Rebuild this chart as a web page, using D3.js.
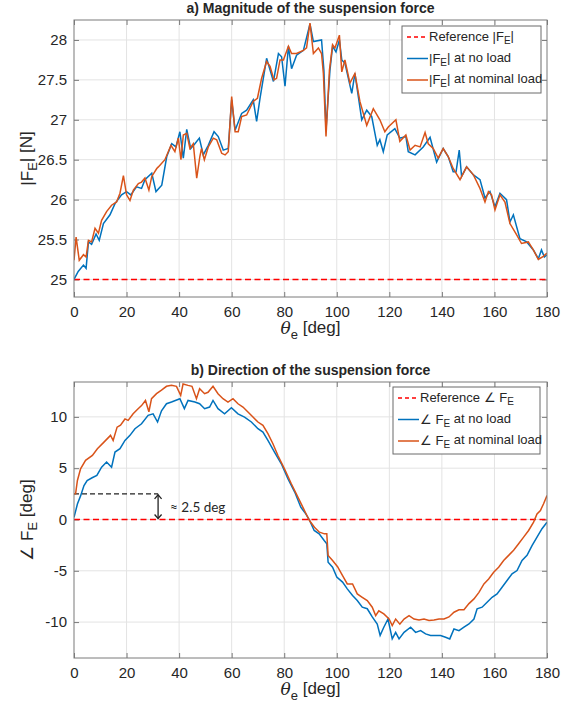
<!DOCTYPE html>
<meta charset="utf-8">

<!-- Load d3.js -->
<script src="https://d3js.org/d3.v7.min.js"></script>

<style>
  body { margin: 0; background: #fff; }
  text { font-family: "Liberation Sans", Arial, sans-serif; fill: #262626; }
</style>

<div id="my_dataviz"></div>
<script>

// ---- data ----
// a) magnitude of the suspension force [N]
var thetaMagNoLoad = [0,1.6,3.6,4.6,5.5,6.7,8.4,9.6,11.2,13.7,15.6,18.1,20,21.6,23.8,25.7,27,29.6,31.2,33.4,35.3,37.2,38.8,40.3,41.6,42.9,44.4,46,47.7,49.2,51.1,53.3,54.9,56.8,58.7,60,61.3,63.8,65.7,68.2,69.5,70.8,73.3,75.9,77.8,79,80.3,81.6,82.8,84.7,87.3,89.8,91.1,94.2,95.1,95.9,97.4,98.4,99.7,101,101.9,103.1,105.7,106.9,109.5,111.4,113.3,115.4,116.4,117.7,119.2,122.1,124,126.3,127.2,129.8,132.9,135.5,138,140.5,142.4,144.3,145.4,146.6,147.5,149.4,152,154.5,156.4,158.3,160.2,162.1,164.6,165.9,167.2,169.7,172.3,174.8,176.7,177.9,179,180]
var magNoLoad = [25.0,25.1,25.18,25.14,25.47,25.44,25.57,25.49,25.7,25.81,25.95,26.06,26.1,26.06,26.16,26.14,26.25,26.33,26.1,26.18,26.54,26.7,26.66,26.85,26.52,26.88,26.64,26.7,26.77,26.56,26.68,26.85,26.79,26.62,26.64,27.25,26.87,27.08,27.12,27.25,26.98,27.27,27.77,27.48,27.83,27.79,27.42,27.92,27.64,27.81,27.87,28.2,27.98,28.0,27.62,26.87,27.62,27.92,27.85,28.0,27.75,27.71,27.33,27.58,27.0,27.12,27.04,26.68,26.75,26.6,26.81,26.89,26.77,26.79,26.6,26.56,26.66,26.78,26.47,26.64,26.54,26.35,26.35,26.62,26.29,26.41,26.31,26.25,26.02,26.1,25.91,26.08,26.0,25.72,25.81,25.51,25.47,25.37,25.26,25.37,25.28,25.31]

var thetaMagNominal = [0,0.8,2,3.6,4.6,5.5,6.7,8,9.3,10.5,12.4,14.3,16.2,17.5,18.8,20,21.3,22.6,24.5,25.7,27,28.5,29.6,31.5,32.1,34.6,36.9,38.4,39.7,40.7,41.6,42.9,44.1,45.4,46.7,47.9,48.5,49.6,51.1,53,54.3,56.2,57.5,58.7,60,61.3,62.5,63.8,65.7,68.2,69.8,71.4,73.3,74.6,76.1,77.1,78.4,79.7,81.6,82.8,84.7,87.3,88.5,89.8,91.1,93,94.2,94.9,95.9,97.2,98.4,99.3,101,101.9,103.1,105,106.9,108.8,111.4,113.9,116.4,118.3,119.6,122.5,124,126.3,127.9,129.8,131.7,133.6,134.8,136.7,138.6,140.5,142.4,144.3,146.9,149.4,152,154.5,156.4,157.7,158.9,160.2,162.1,164,165.9,168.4,170.3,172.9,174.8,176.7,178.6,180]
var magNominal = [25.24,25.53,25.24,25.31,25.28,25.49,25.47,25.64,25.58,25.74,25.85,25.93,25.97,26.08,26.3,26.06,25.99,26.12,26.2,26.22,26.27,26.12,26.29,26.39,26.41,26.5,26.68,26.6,26.77,26.5,26.81,26.83,26.64,26.7,26.27,26.54,26.64,26.5,26.66,26.77,26.75,26.58,26.56,26.6,27.29,26.85,26.85,27.04,27.06,27.23,27.27,27.52,27.73,27.67,27.5,27.52,27.75,27.75,27.92,27.83,27.83,27.87,27.9,28.21,27.83,27.9,27.83,27.58,26.79,27.62,27.94,27.9,28.06,27.6,27.75,27.46,27.58,27.23,26.93,27.14,27.0,26.85,26.91,27.0,26.73,26.81,26.62,26.68,26.66,26.84,26.7,26.64,26.52,26.64,26.54,26.39,26.25,26.41,26.31,26.14,25.97,26.1,26.06,25.87,26.06,25.97,25.7,25.56,25.45,25.47,25.37,25.25,25.29,25.33]

var magReference = 25

// b) direction of the suspension force [deg]
var thetaDirNoLoad = [0,1.3,2.5,3.8,5,6.9,8.7,10.5,12.4,14.3,15.6,17.5,19.4,21.3,23.2,25.7,28.2,30.1,31.8,33.3,35.2,37.1,40.3,42,43.4,46,47.8,49.7,51.6,52.9,54.8,57.3,59.9,62.4,64.9,67.5,70,71.9,73.8,76.3,78.9,81.4,84,86.3,88.2,89.5,91.4,93.3,95.2,96.2,96.7,98.4,100,102.2,104,106,107.8,109.7,111.6,113.5,115.4,116.5,117.9,119.5,121.1,122.4,123.7,125.6,128.1,130,131.9,133.8,135.7,137.6,139.5,141.4,143,144.6,146.5,148.4,150.3,152.2,153.4,155.3,157.2,159.1,161,162.9,164.8,166.7,168.6,170.5,172.4,174.3,176.2,178.1,180]
var dirNoLoad = [0.2,1.5,2.3,3.3,3.8,4.07,4.3,5.1,5.6,5.1,6.57,6.9,7.7,8.2,8.85,9.33,10.15,10.3,9.5,10.6,11.28,11.45,11.77,10.8,11.6,11.45,11.28,10.8,10.96,11.6,10.8,10.3,10.9,10.3,9.98,9.5,8.85,8.52,7.7,6.57,5.43,3.97,2.67,1.2,0.55,0.0,-1.07,-1.4,-2.05,-2.37,-4.16,-4.65,-5.6,-6.1,-6.76,-7.4,-7.9,-8.55,-8.7,-9.5,-10.2,-11.3,-10.5,-9.7,-11.64,-11.0,-11.64,-11.0,-10.5,-11.0,-10.83,-11.15,-11.3,-11.3,-11.3,-11.48,-11.64,-10.67,-10.83,-10.5,-10.18,-9.7,-8.7,-8.55,-8.07,-7.58,-7.25,-6.6,-5.95,-5.3,-4.98,-4.0,-3.5,-2.54,-1.72,-0.9,-0.26]

var thetaDirNominal = [0,0.6,1.3,2.5,4.4,7,8.9,11.4,13.9,14.9,16.4,17.7,19.4,20.6,22.5,24.4,25.7,27.2,28.5,29.5,31.4,33.3,35.2,37.1,39,40.6,41.5,43.4,44.9,46.6,47.8,49.7,51,52.9,54.8,56.7,58.6,60.5,62.4,64.3,66.2,68.1,70,71.9,73.8,75.7,77.6,80.1,82.7,85.2,87.7,89.6,91.5,93.4,95.3,96.2,96.7,98.4,100.3,102.2,104,106,107.8,109.7,111.6,113.5,114.8,116,117.9,119.9,121.1,122.4,124,125.6,127.5,129.4,131.3,133.2,135.1,137,138.9,140.8,142.7,144.6,146.5,148.4,150.3,152.2,154.1,156,157.8,159.7,161.6,163.5,165.4,167.3,169.2,171.1,173,174.9,176.2,177.5,178.7,180]
var dirNominal = [2.5,2.5,3.8,4.94,5.76,6.24,6.9,7.54,8.2,7.7,9.0,9.2,9.8,9.66,10.3,10.8,11.1,11.6,10.5,11.77,12.26,12.6,12.98,13.07,12.98,12.1,13.2,13.07,12.98,11.77,12.75,12.26,12.4,12.98,12.26,11.77,11.45,11.77,11.28,10.96,10.47,9.98,9.5,9.17,8.36,7.38,6.24,4.94,3.48,2.18,0.88,-0.1,-0.75,-1.24,-1.4,-1.4,-3.5,-4.0,-4.6,-5.46,-6.28,-6.28,-7.25,-7.58,-7.9,-8.55,-9.37,-8.9,-9.2,-9.7,-10.34,-9.7,-10.2,-9.7,-9.37,-9.7,-9.8,-9.7,-9.85,-9.8,-9.7,-9.7,-9.5,-9.04,-8.8,-8.8,-8.2,-7.74,-7.1,-6.28,-5.8,-5.14,-4.65,-4.0,-3.5,-3.0,-2.37,-1.72,-1.07,-0.26,0.55,0.88,1.53,2.34]

var dirReference = 0

// offset annotation: dashed guide from 0 to 32 deg at 2.5 deg
var offsetGuide = [0, 32]
var offsetValue = 2.5

// ticks
var xTicks = [0, 20, 40, 60, 80, 100, 120, 140, 160, 180]
var magTicks = [25, 25.5, 26, 26.5, 27, 27.5, 28]
var dirTicks = [-10, -5, 0, 5, 10]

// colours (MATLAB defaults)
var colNoLoad = "#0072BD"
var colNominal = "#D95319"
var colRef = "#ff0000"

// set the dimensions of the figure
var width = 577
    height = 703

var svg = d3.select("#my_dataviz")
  .append("svg")
    .attr("width", width)
    .attr("height", height)

var defs = svg.append("defs")

// plain tick labels like MATLAB: 25, 25.5, -10
var tickFmt = function(d) { return String(d) }

// write text made of [string, isSubscript] pieces
function richText(sel, parts, subSize) {
  parts.forEach(function(p) {
    var t = sel.append("tspan").text(p[0])
    if (p[1]) t.attr("dy", "0.3em").style("font-size", subSize + "px")
    else if (sel.selectAll("tspan").size() > 1) t.attr("dy", "-0.3em")
  })
  return sel
}

function drawPanel(p) {

  var x = d3.scaleLinear().domain([0, 180]).range([74, 547])
  var y = d3.scaleLinear().domain(p.yDomain).range([p.bottom, p.top])

  var g = svg.append("g")

  // grid
  g.selectAll(".vgrid").data(xTicks.slice(1, -1)).enter().append("line")
    .attr("x1", d => x(d)).attr("x2", d => x(d))
    .attr("y1", p.top).attr("y2", p.bottom)
    .attr("stroke", "#e3e3e3")
  g.selectAll(".hgrid").data(p.yTicks).enter().append("line")
    .attr("x1", 74).attr("x2", 547)
    .attr("y1", d => y(d)).attr("y2", d => y(d))
    .attr("stroke", "#e3e3e3")

  // axes (ticks point inwards, box on)
  var axB = g.append("g").attr("transform", "translate(0," + p.bottom + ")")
    .call(d3.axisBottom(x).tickValues(xTicks).tickFormat(tickFmt).tickSizeInner(-5).tickSizeOuter(0).tickPadding(9))
  var axT = g.append("g").attr("transform", "translate(0," + p.top + ")")
    .call(d3.axisTop(x).tickValues(xTicks).tickSizeInner(-5).tickSizeOuter(0).tickFormat(""))
  var axL = g.append("g").attr("transform", "translate(74,0)")
    .call(d3.axisLeft(y).tickValues(p.yTicks).tickFormat(tickFmt).tickSizeInner(-5).tickSizeOuter(0).tickPadding(7))
  var axR = g.append("g").attr("transform", "translate(547,0)")
    .call(d3.axisRight(y).tickValues(p.yTicks).tickSizeInner(-5).tickSizeOuter(0).tickFormat(""))
  ;[axB, axT, axL, axR].forEach(function(a) {
    a.select(".domain").remove()
    a.selectAll(".tick line").attr("stroke", "#7a7a7a")
    a.selectAll("text").style("font-size", "15px").attr("fill", "#262626")
  })

  // clip to the plot area
  defs.append("clipPath").attr("id", p.id)
    .append("rect").attr("x", 74).attr("y", p.top).attr("width", 473).attr("height", p.bottom - p.top)

  var plot = g.append("g").attr("clip-path", "url(#" + p.id + ")")

  var line = d3.line().x(d => x(d[0])).y(d => y(d[1]))

  // reference line
  plot.append("path")
    .datum([[0, p.ref], [180, p.ref]])
    .attr("d", line)
    .attr("fill", "none").attr("stroke", colRef)
    .attr("stroke-width", 1.5).attr("stroke-dasharray", "6,3.5")

  if (p.annot) p.annot(plot, x, y)

  plot.append("path")
    .datum(d3.zip(p.thetaA, p.valA))
    .attr("d", line)
    .attr("fill", "none").attr("stroke", colNoLoad).attr("stroke-width", 1.5)
  plot.append("path")
    .datum(d3.zip(p.thetaB, p.valB))
    .attr("d", line)
    .attr("fill", "none").attr("stroke", colNominal).attr("stroke-width", 1.5)

  // box
  g.append("rect")
    .attr("x", 74).attr("y", p.top).attr("width", 473).attr("height", p.bottom - p.top)
    .attr("fill", "none").attr("stroke", "#7a7a7a")

  // title
  g.append("text")
    .attr("x", 310.5).attr("y", p.top - 7)
    .attr("text-anchor", "middle")
    .style("font-size", "14px").style("font-weight", "bold")
    .text(p.title)

  // x label
  var xl = g.append("text")
    .attr("x", 310.5).attr("y", p.bottom + 37)
    .attr("text-anchor", "middle")
    .style("font-size", "17px")
  xl.append("tspan").text("θ").style("font-family", "'DejaVu Serif', serif").style("font-style", "italic")
  xl.append("tspan").text("e").attr("dy", "0.35em").style("font-size", "13px")
  xl.append("tspan").text(" [deg]").attr("dy", "-0.35em")

  // y label
  var yl = g.append("text")
    .attr("transform", "translate(33," + ((p.top + p.bottom) / 2) + ") rotate(-90)")
    .attr("text-anchor", "middle")
    .style("font-size", "17px")
  richText(yl, p.ylabel, 13)

  // legend
  var lg = g.append("g")
  lg.append("rect")
    .attr("x", p.leg.x).attr("y", p.leg.y).attr("width", p.leg.w).attr("height", p.leg.h)
    .attr("fill", "white").attr("stroke", "#6b6b6b")
  var items = [
    { col: colRef, dash: "4,3", label: p.legLabels[0] },
    { col: colNoLoad, dash: null, label: p.legLabels[1] },
    { col: colNominal, dash: null, label: p.legLabels[2] }
  ]
  items.forEach(function(it, i) {
    var cy = p.leg.y + 11 + i * 21.5
    lg.append("line")
      .attr("x1", p.leg.x + 5).attr("x2", p.leg.x + 26)
      .attr("y1", cy).attr("y2", cy)
      .attr("stroke", it.col).attr("stroke-width", 1.5)
      .attr("stroke-dasharray", it.dash)
    var t = lg.append("text")
      .attr("x", p.leg.x + 27).attr("y", cy + 4)
      .style("font-size", "13px")
    richText(t, it.label, 10)
  })
}

// a) magnitude
drawPanel({
  id: "clipA", top: 20, bottom: 297, yDomain: [24.78, 28.25], yTicks: magTicks,
  thetaA: thetaMagNoLoad, valA: magNoLoad, thetaB: thetaMagNominal, valB: magNominal,
  ref: magReference,
  title: "a) Magnitude of the suspension force",
  ylabel: [["|F", false], ["E", true], ["| [N]", false]],
  leg: { x: 402, y: 26, w: 139, h: 67 },
  legLabels: [
    [["Reference |F", false], ["E", true], ["|", false]],
    [["|F", false], ["E", true], ["| at no load", false]],
    [["|F", false], ["E", true], ["| at nominal load", false]]
  ]
})

// b) direction
drawPanel({
  id: "clipB", top: 382, bottom: 658, yDomain: [-13.5, 13.4], yTicks: dirTicks,
  thetaA: thetaDirNoLoad, valA: dirNoLoad, thetaB: thetaDirNominal, valB: dirNominal,
  ref: dirReference,
  title: "b) Direction of the suspension force",
  ylabel: [["∠ F", false], ["E", true], [" [deg]", false]],
  leg: { x: 393, y: 387, w: 147, h: 67 },
  legLabels: [
    [["Reference ∠ F", false], ["E", true]],
    [["∠ F", false], ["E", true], [" at no load", false]],
    [["∠ F", false], ["E", true], [" at nominal load", false]]
  ],
  annot: function(plot, x, y) {
    // dashed guide at the offset level
    plot.append("line")
      .attr("x1", x(offsetGuide[0])).attr("x2", x(offsetGuide[1]))
      .attr("y1", y(offsetValue)).attr("y2", y(offsetValue))
      .attr("stroke", "#222").attr("stroke-width", 1.2).attr("stroke-dasharray", "5,3")
    // double arrow
    var ax = x(offsetGuide[1])
    plot.append("line")
      .attr("x1", ax).attr("x2", ax)
      .attr("y1", y(offsetValue) + 1).attr("y2", y(0) - 1)
      .attr("stroke", "#222").attr("stroke-width", 1.3)
    plot.append("path")
      .attr("d", "M" + (ax - 3.5) + "," + (y(offsetValue) + 5) + "L" + ax + "," + (y(offsetValue) + 1) + "L" + (ax + 3.5) + "," + (y(offsetValue) + 5))
      .attr("fill", "none").attr("stroke", "#222").attr("stroke-width", 1.3)
    plot.append("path")
      .attr("d", "M" + (ax - 3.5) + "," + (y(0) - 5) + "L" + ax + "," + (y(0) - 1) + "L" + (ax + 3.5) + "," + (y(0) - 5))
      .attr("fill", "none").attr("stroke", "#222").attr("stroke-width", 1.3)
    plot.append("text")
      .attr("x", ax + 12).attr("y", y(offsetValue / 2) + 5)
      .style("font-family", "Lato, 'Open Sans', sans-serif").style("font-size", "13.5px")
      .text("≈ 2.5 deg")
  }
})

</script>
